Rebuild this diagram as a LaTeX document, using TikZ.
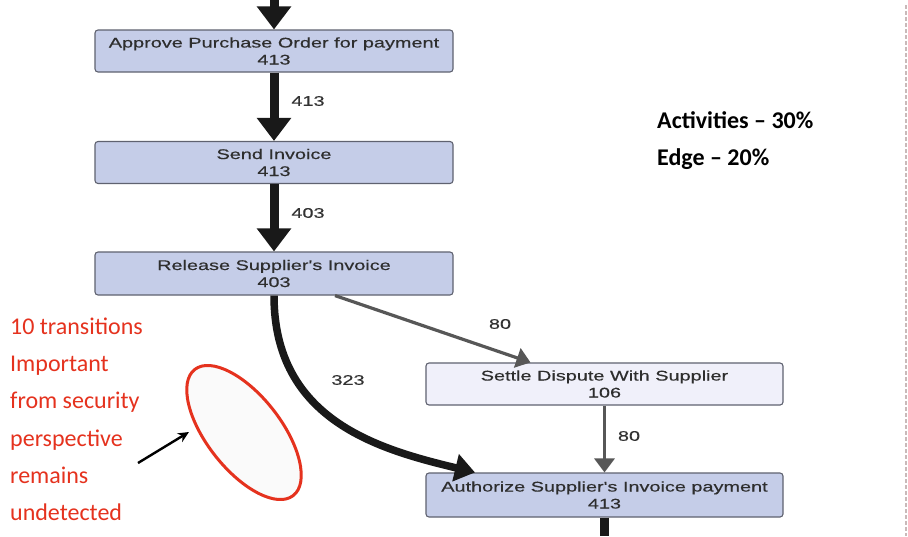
\documentclass[tikz,border=0pt]{standalone}
\usepackage{fontspec}
\usetikzlibrary{arrows.meta,shapes.geometric,calc}
\newfontfamily\boxfont[FakeStretch=1.42,FakeBold=0.4]{Liberation Sans}
\newfontfamily\notefont[Ligatures=TeX]{Carlito}

\definecolor{actfill}{HTML}{C5CDE8}
\definecolor{actpale}{HTML}{F0F0FA}
\definecolor{actline}{HTML}{5F6270}
\definecolor{edgegray}{HTML}{575757}
\definecolor{notered}{HTML}{E5321E}
\definecolor{sepline}{HTML}{C9B9B9}

\tikzset{
  activity/.style={draw=actline, line width=1.1pt, fill=actfill, rounded corners=3pt,
    minimum width=358pt, minimum height=42pt, align=center, inner sep=0pt,
    font=\boxfont\fontsize{14pt}{17pt}\selectfont, text=black!82},
  paleactivity/.style={activity, fill=actpale},
  heavyflow/.style={line width=9pt, black!90, -{Triangle[length=23pt,width=33pt]}},
  curveflow/.style={line width=7.5pt, black!90, -{Triangle[length=20pt,width=27pt]}},
  lightflow/.style={line width=3.2pt, edgegray, -{Triangle[length=14pt,width=20pt]}},
  flowlabel/.style={font=\boxfont\fontsize{14pt}{17pt}\selectfont, text=black!80, inner sep=0pt},
  note/.style={font=\notefont\fontsize{24pt}{37.3pt}\selectfont, text=notered, align=left, inner sep=0pt},
}

\begin{document}
\begin{tikzpicture}[x=1pt,y=1pt]
  \useasboundingbox[fill=white] (0,0) rectangle (908,-536);

  % activities
  \node[activity] (approve) at (274,-51) {Approve Purchase Order for payment\\413};
  \node[activity] (send) at (274,-162.5) {Send Invoice\\413};
  \node[activity, minimum height=43pt] (release) at (274,-273.5) {Release Supplier's Invoice\\403};
  \node[paleactivity, minimum width=357pt] (settle) at (604.5,-384) {Settle Dispute With Supplier\\106};
  \node[activity, minimum width=357pt, minimum height=44pt] (authorize) at (604.5,-495) {Authorize Supplier's Invoice payment\\413};

  % open ends of the process
  \coordinate (incoming) at (274,0);
  \coordinate (outgoing) at (604.5,-536);

  % flows
  \draw[heavyflow] (incoming) -- (approve.north);
  \draw[heavyflow] (approve) -- (send);
  \draw[heavyflow] (send) -- (release);
  \draw[lightflow] ($(release.south)+(61,0)$) -- ($(settle.north)+(-74,0)$);
  \draw[curveflow] (release.south) .. controls ($(release.south)+(0,-125)$) and ($(authorize.north)+(-225,23)$) .. ($(authorize.north)+(-129.5,0)$);
  \draw[lightflow] (settle) -- (authorize);
  \draw[line width=9pt, black!90] (authorize.south) -- (outgoing);

  % flow counts
  \node[flowlabel] (l1) at (308,-101) {413};
  \node[flowlabel] (l2) at (308,-213) {403};
  \node[flowlabel] (l3) at (500,-324) {80};
  \node[flowlabel] (l4) at (348,-380) {323};
  \node[flowlabel] (l5) at (629,-436) {80};

  % thresholds
  \node[note, text=black, font=\notefont\bfseries\fontsize{24pt}{37pt}\selectfont, anchor=west] (thresholds) at (657,-141) {Activities -- 30\%\\Edge -- 20\%};

  % missing transitions remark
  \node[draw=notered, line width=3pt, fill=black!2, ellipse, rotate=-52,
        minimum width=160pt, minimum height=74pt] (ring) at (244,-432.5) {};
  \node[note, anchor=north west] (remark) at (10,-317.5) {10 transitions\\Important\\from security\\perspective\\remains\\undetected};
  \coordinate (pointer) at (138,-463);
  \coordinate (target) at (189,-432);
  \draw[line width=2.4pt, black, -{Stealth[length=11pt,width=10pt]}] (pointer) -- (target);

  % slide separator
  \coordinate (septop) at (906,-5);
  \coordinate (sepbot) at (906,-536);
  \draw[sepline, line width=1.2pt, dash pattern=on 4pt off 2pt] (septop) -- (sepbot);
\end{tikzpicture}
\end{document}
